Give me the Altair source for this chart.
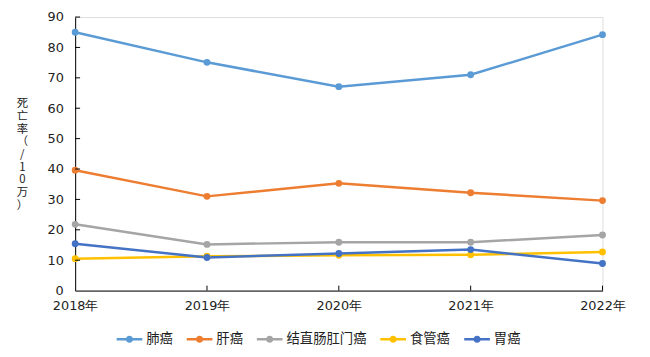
import altair as alt
import pandas as pd

years = ["2018年", "2019年", "2020年", "2021年", "2022年"]
series_names = ["肺癌", "肝癌", "结直肠肛门癌", "食管癌", "胃癌"]
lung = [85.0, 75.1, 67.1, 71.0, 84.2]
liver = [39.6, 31.0, 35.3, 32.2, 29.6]
colorectal = [21.8, 15.2, 15.9, 15.9, 18.3]
esophagus = [10.5, 11.3, 11.6, 11.8, 12.7]
stomach = [15.4, 10.9, 12.2, 13.5, 8.9]
colors = ["#5B9BD5", "#ED7D31", "#A5A5A5", "#FFC000", "#4472C4"]
y_labels = [0, 10, 20, 30, 40, 50, 60, 70, 80, 90]
y_ticks = [10, 20, 30, 40, 50, 60, 70, 80, 90]

rows = []
for name, vals in zip(series_names, [lung, liver, colorectal, esophagus, stomach]):
    for yr, v in zip(years, vals):
        rows.append({"year": yr, "series": name, "value": v})
df = pd.DataFrame(rows)

W, H = 534, 277
FONT = "DejaVu Sans"
CJK = "Noto Sans CJK SC"

x_enc = alt.X("year:N", sort=years,
              scale=alt.Scale(type="point", padding=0),
              axis=alt.Axis(title=None, labelAngle=0, ticks=False, domainColor="#000000",
                            domainWidth=1, labelFont=FONT, labelFontSize=13,
                            labelColor="#222222", labelPadding=9, labelBaseline="top",
                            labelFlush=False, labelOverlap=False))
y_enc = alt.Y("value:Q",
              scale=alt.Scale(domain=[0, 90], nice=False, zero=True),
              axis=alt.Axis(values=y_labels, ticks=False,
                            grid=False, domainColor="#000000", domainWidth=1,
                            labelFont=FONT, labelFontSize=13, labelColor="#222222",
                            labelPadding=12, labelFlush=False, labelOverlap=False,
                            title=["死", "亡", "率", "（", "/", "1", "0", "万", "）"],
                            titleAngle=0, titleFont=CJK, titleFontSize=11.5,
                            titleFontWeight="normal", titleColor="#222222",
                            titleLineHeight=12.8, titleAlign="center",
                            titleBaseline="top", titleX=-54, titleY=82))

legend_path = ("M-1,-0.1L1,-0.1L1,0.1L-1,0.1Z "
               "M0.28,0A0.28,0.28,0,1,1,-0.28,0A0.28,0.28,0,1,1,0.28,0Z")

color_enc = alt.Color("series:N", sort=series_names,
                      scale=alt.Scale(domain=series_names, range=colors),
                      legend=alt.Legend(title=None, orient="none", direction="horizontal",
                                        legendX=42, legendY=313,
                                        symbolType=legend_path, symbolSize=676,
                                        symbolStrokeWidth=0, labelFont=CJK,
                                        labelFontSize=13.5, labelColor="#222222",
                                        labelOffset=4, columnPadding=14, padding=0))

base = alt.Chart(df)
lines = base.mark_line(strokeWidth=2.5).encode(x=x_enc, y=y_enc, color=color_enc)
points = base.mark_point(filled=True, size=48, opacity=1, shape="circle").encode(
    x=x_enc, y=y_enc, color=color_enc)

ytick_df = pd.DataFrame({"value": y_ticks})
ytick_rules = alt.Chart(ytick_df).mark_rule(color="#000000", strokeWidth=1).encode(
    y=y_enc, x=alt.value(0), x2=alt.value(5))
xtick_df = pd.DataFrame({"year": years[1:]})
xtick_rules = alt.Chart(xtick_df).mark_rule(color="#000000", strokeWidth=1).encode(
    x=x_enc, y=alt.value(H - 5), y2=alt.value(H))

chart = alt.layer(lines, points, ytick_rules, xtick_rules).properties(
    width=W, height=H,
    autosize=alt.AutoSizeParams(type="none"),
    padding={"left": 68, "top": 7, "right": 40, "bottom": 58},
).configure_view(stroke=None).configure(background="white")

chart.save("out.html", embed_options={"renderer": "svg", "actions": False})
